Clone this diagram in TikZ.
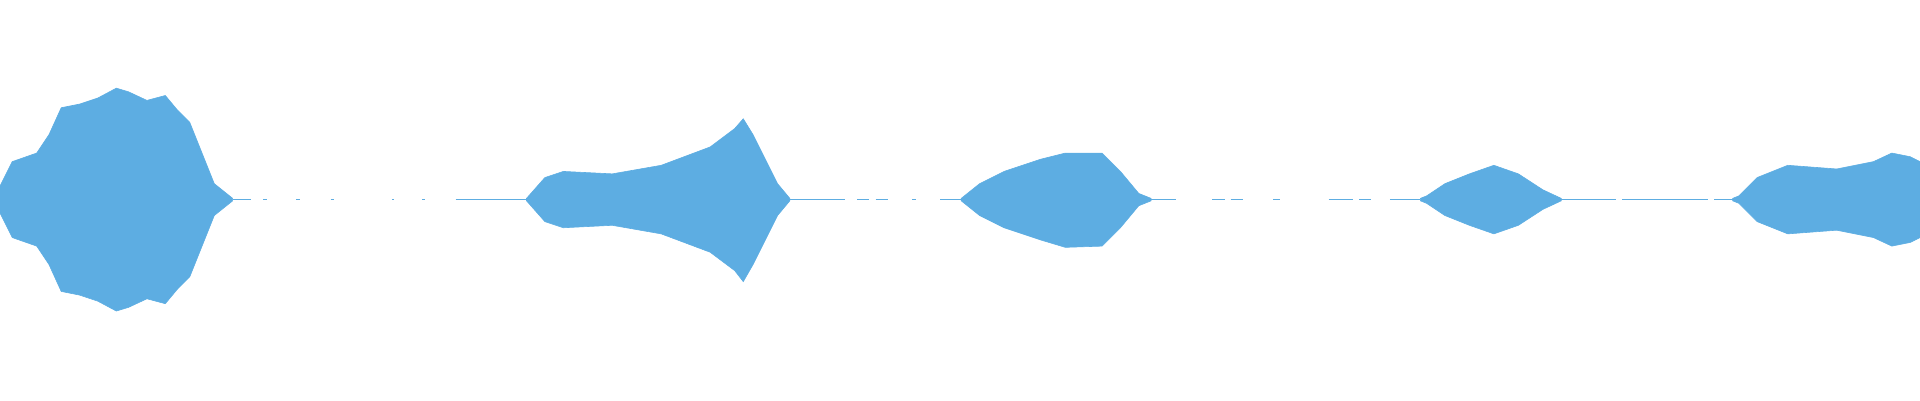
\documentclass[tikz,border=0pt]{standalone}
\definecolor{wave}{RGB}{93,173,226}
\begin{document}
\begin{tikzpicture}[x=0.61224pt,y=-0.61224pt,wv/.style={fill=wave,draw=wave,line width=0.3pt}]
\useasboundingbox (0,0) rectangle (1568,326.7);
\fill[wv] (0,152) -- (10,132) -- (30,125) -- (40,110) -- (50,88) -- (65,85) -- (80,80) -- (95,72) -- (105,75) -- (120,82) -- (135,78) -- (145,90) -- (155,100) -- (165,125) -- (175,150) -- (185,158) -- (190,162)
 -- (190,164) -- (185,168) -- (175,176) -- (165,201) -- (155,226) -- (145,236) -- (135,248) -- (120,244) -- (105,251) -- (95,254) -- (80,246) -- (65,241) -- (50,238) -- (40,216) -- (30,201) -- (10,194) -- (0,174) -- cycle;
\fill[wv] (430,162) -- (445,145) -- (460,140) -- (500,142) -- (540,135) -- (580,120) -- (600,105) -- (607,97) -- (615,110) -- (625,130) -- (635,150) -- (645,162)
 -- (645,164) -- (635,176) -- (625,196) -- (615,216) -- (607,230) -- (600,221) -- (580,206) -- (540,191) -- (500,184) -- (460,186) -- (445,181) -- (430,164) -- cycle;
\fill[wv] (785,162) -- (790,158) -- (800,150) -- (820,140) -- (850,130) -- (870,125) -- (900,125) -- (915,140) -- (930,158) -- (940,162)
 -- (940,164) -- (930,168) -- (915,186) -- (900,201) -- (870,202) -- (850,196) -- (820,186) -- (800,176) -- (790,168) -- (785,164) -- cycle;
\fill[wv] (1160,162) -- (1165,160) -- (1180,150) -- (1200,142) -- (1220,135) -- (1240,142) -- (1260,155) -- (1275,162)
 -- (1275,164) -- (1260,171) -- (1240,184) -- (1220,191) -- (1200,184) -- (1180,176) -- (1165,166) -- (1160,164) -- cycle;
\fill[wv] (1415,162) -- (1420,160) -- (1435,145) -- (1460,135) -- (1500,138) -- (1530,132) -- (1545,125) -- (1560,128) -- (1568,132)
 -- (1568,194) -- (1560,198) -- (1545,201) -- (1530,194) -- (1500,188) -- (1460,191) -- (1435,181) -- (1420,166) -- (1415,164) -- cycle;
\foreach \a/\b in {190/205,215/218,242/245,270/273,320/322,345/347,372/430,645/690,700/710,715/725,745/748,768/785,940/960,990/1000,1005/1015,1040/1045,1085/1105,1110/1120,1135/1160,1275/1320,1325/1395,1400/1415}
  \draw[wave,line width=0.5pt] (\a,163) -- (\b,163);
\end{tikzpicture}
\end{document}
